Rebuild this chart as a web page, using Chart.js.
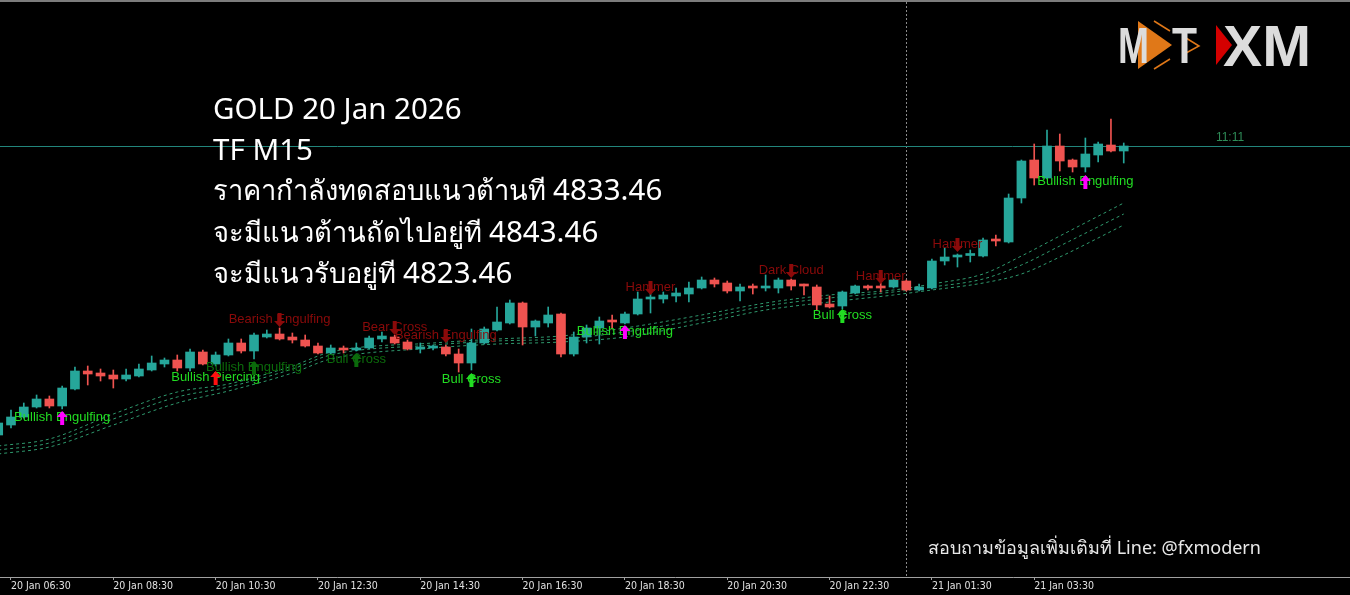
<html>
<head>
  <meta charset="UTF-8">
  <script src="https://cdn.jsdelivr.net/npm/chart.js"></script>
  <title>GOLD M15</title>
  <style>
    body { margin: 0; background: #000; overflow: hidden; }
    #wrap { position: relative; width: 1350px; height: 595px; }
    #topline { position: absolute; left: 0; top: 0; width: 1350px; height: 2px; background: #7c7c7c; }
    #info { position: absolute; left: 213px; top: 88px; color: #fff; font-family: "Noto Sans", sans-serif; font-size: 27.3px; line-height: 40.5px; white-space: nowrap; }
    #info .lat { font-size: 29.5px; }
    #contact { position: absolute; left: 928px; top: 535px; color: #e8e8e8; font-family: "Noto Sans", sans-serif; font-size: 18px; line-height: 24px; white-space: nowrap; }
    #logo { position: absolute; left: 1110px; top: 15px; }
  </style>
</head>
<body>
<div id="wrap">
  <canvas id="chart" width="1350" height="595"></canvas>
  <div id="topline"></div>
  <div id="info">
    <div><span class="lat">GOLD 20 Jan 2026</span></div>
    <div><span class="lat">TF M15</span></div>
    <div>ราคากำลังทดสอบแนวต้านที <span class="lat">4833.46</span></div>
    <div>จะมีแนวต้านถัดไปอยู่ที <span class="lat">4843.46</span></div>
    <div>จะมีแนวรับอยู่ที <span class="lat">4823.46</span></div>
  </div>
  <div id="contact">สอบถามข้อมูลเพิ่มเติมที่ Line: @fxmodern</div>
  <svg id="logo" width="210" height="62">
    <polygon points="28,6 62,30 28,54" fill="#e07818"/>
    <polyline points="44,6 60,16" fill="none" stroke="#e07818" stroke-width="1.5"/>
    <polyline points="44,54 60,44" fill="none" stroke="#e07818" stroke-width="1.5"/>
    <polyline points="76,23 89,31 76,38" fill="none" stroke="#e07818" stroke-width="1.5"/>
    <text x="8" y="48" font-family="Liberation Sans" font-weight="bold" font-size="50" fill="#dcdcdc" textLength="31" lengthAdjust="spacingAndGlyphs">M</text>
    <text x="62" y="48" font-family="Liberation Sans" font-weight="bold" font-size="50" fill="#dcdcdc" textLength="25" lengthAdjust="spacingAndGlyphs">T</text>
    <text x="113" y="51" font-family="Liberation Sans" font-weight="bold" font-size="57" fill="#dcdcdc" textLength="88" lengthAdjust="spacingAndGlyphs">XM</text>
    <polygon points="106,10 122,30 106,50" fill="#d40000"/>
  </svg>
</div>

<script>
// bar positions: bar 0 is 20 Jan 06:30, one bar per 15 minutes
const firstBar = -1;
const tickBars = [0, 8, 16, 24, 32, 40, 48, 56, 64, 72, 80];
const tickLabels = ['20 Jan 06:30', '20 Jan 08:30', '20 Jan 10:30', '20 Jan 12:30', '20 Jan 14:30',
  '20 Jan 16:30', '20 Jan 18:30', '20 Jan 20:30', '20 Jan 22:30', '21 Jan 01:30', '21 Jan 03:30'];

const opens = [
  4718.0, 4722.0, 4725.2, 4729.2, 4732.4, 4729.6, 4736.4, 4743.6, 4742.8, 4742.0,
  4740.4, 4741.6, 4744.0, 4746.4, 4748.0, 4744.8, 4751.2, 4746.4, 4750.0, 4754.8,
  4751.6, 4757.2, 4758.4, 4757.2, 4756.0, 4753.6, 4750.8, 4752.8, 4752.0, 4752.8,
  4756.4, 4757.2, 4755.2, 4752.4, 4752.8, 4753.2, 4750.4, 4746.8, 4754.8, 4760.0,
  4762.8, 4770.8, 4761.2, 4762.8, 4766.4, 4750.4, 4757.2, 4760.8, 4763.6, 4762.8,
  4766.4, 4772.4, 4772.4, 4773.6, 4774.4, 4776.8, 4780.0, 4778.8, 4775.6, 4777.2,
  4776.8, 4776.8, 4780.0, 4778.0, 4777.2, 4770.4, 4769.6, 4774.8, 4777.2, 4777.2,
  4777.2, 4779.6, 4776.0, 4776.8, 4787.6, 4789.2, 4789.8, 4789.6, 4796.0, 4795.2,
  4812.8, 4828.0, 4820.8, 4833.6, 4828.0, 4825.2, 4830.0, 4834.0, 4831.6];
const highs = [
  4724.0, 4728.0, 4730.8, 4734.0, 4733.6, 4737.6, 4745.2, 4745.6, 4744.4, 4744.0,
  4744.4, 4746.4, 4749.6, 4748.8, 4750.0, 4752.4, 4752.0, 4751.2, 4756.4, 4756.4,
  4758.8, 4760.0, 4760.8, 4758.8, 4758.0, 4754.8, 4754.0, 4753.6, 4754.8, 4757.6,
  4759.2, 4758.0, 4756.0, 4754.8, 4754.0, 4754.0, 4752.4, 4760.4, 4761.2, 4769.2,
  4772.0, 4771.2, 4764.0, 4769.2, 4766.8, 4759.2, 4762.0, 4765.2, 4766.0, 4767.2,
  4775.2, 4775.2, 4775.2, 4776.8, 4779.2, 4781.2, 4780.8, 4779.6, 4778.4, 4778.4,
  4782.0, 4780.8, 4780.4, 4778.4, 4778.0, 4773.6, 4775.6, 4778.0, 4778.0, 4778.8,
  4780.4, 4780.0, 4778.4, 4788.4, 4792.8, 4790.4, 4792.0, 4796.8, 4798.0, 4814.4,
  4828.0, 4834.4, 4840.0, 4838.4, 4828.4, 4836.8, 4835.2, 4844.4, 4834.8];
const lows = [
  4716.8, 4720.8, 4724.8, 4728.8, 4728.8, 4728.4, 4736.0, 4738.0, 4739.6, 4736.8,
  4739.6, 4741.2, 4743.6, 4745.2, 4743.6, 4743.6, 4746.0, 4745.6, 4749.6, 4750.8,
  4748.4, 4756.8, 4756.0, 4754.8, 4753.2, 4750.4, 4750.4, 4750.8, 4751.6, 4752.4,
  4755.2, 4754.4, 4752.0, 4750.8, 4752.0, 4749.6, 4743.2, 4744.0, 4754.4, 4759.6,
  4762.4, 4754.0, 4757.6, 4761.2, 4749.2, 4749.6, 4754.8, 4754.4, 4760.4, 4762.4,
  4766.0, 4766.8, 4770.8, 4771.2, 4771.2, 4776.4, 4777.2, 4774.8, 4771.6, 4774.4,
  4775.6, 4774.8, 4776.0, 4774.0, 4768.0, 4768.8, 4768.4, 4774.4, 4776.0, 4775.2,
  4776.8, 4775.6, 4775.6, 4776.4, 4786.0, 4785.2, 4787.2, 4789.2, 4793.6, 4794.8,
  4810.8, 4818.0, 4820.4, 4823.6, 4823.2, 4823.2, 4827.2, 4831.2, 4826.8];
const closes = [
  4722.8, 4725.2, 4729.2, 4732.4, 4729.6, 4736.8, 4743.6, 4742.4, 4741.6, 4740.4,
  4742.0, 4744.4, 4746.8, 4748.0, 4744.8, 4751.2, 4746.4, 4750.0, 4754.8, 4751.6,
  4758.0, 4758.4, 4756.4, 4756.0, 4753.6, 4750.8, 4752.8, 4752.0, 4752.8, 4756.8,
  4757.6, 4754.8, 4752.4, 4752.8, 4753.2, 4750.4, 4746.8, 4754.8, 4760.4, 4763.2,
  4770.8, 4761.2, 4763.6, 4766.0, 4750.4, 4757.2, 4760.8, 4763.6, 4763.2, 4766.4,
  4772.4, 4772.8, 4774.0, 4774.8, 4776.8, 4780.0, 4778.4, 4775.6, 4777.2, 4776.8,
  4777.2, 4780.0, 4777.6, 4777.6, 4770.0, 4769.2, 4775.2, 4777.6, 4776.8, 4776.8,
  4780.0, 4776.0, 4777.2, 4787.6, 4789.2, 4790.0, 4790.0, 4796.0, 4795.6, 4812.8,
  4827.6, 4820.8, 4833.6, 4827.6, 4825.2, 4830.4, 4834.4, 4831.6, 4833.6];

// three moving averages, read at a few bars
const maBars = [-1, 3, 8, 13, 17, 22, 25, 33, 38, 43, 48, 54, 59, 64, 69, 72, 76, 79, 82, 87];
const maFast = [4713.6, 4716.4, 4726.4, 4735.2, 4738.4, 4745.6, 4751.2, 4754.8, 4756.4, 4757.6,
  4760.8, 4766.0, 4770.8, 4774.0, 4776.0, 4778.4, 4782.4, 4789.6, 4797.6, 4810.8];
const maMid = [4712.0, 4714.8, 4724.4, 4733.2, 4737.2, 4744.4, 4750.0, 4754.0, 4755.6, 4756.4,
  4759.2, 4764.4, 4769.6, 4772.8, 4775.2, 4777.2, 4780.4, 4786.0, 4793.6, 4806.4];
const maSlow = [4710.4, 4713.2, 4722.0, 4730.8, 4735.6, 4742.8, 4748.4, 4752.8, 4754.4, 4755.2,
  4757.2, 4762.8, 4768.0, 4771.2, 4774.0, 4776.0, 4778.8, 4782.4, 4789.2, 4802.0];

// candle pattern marks
const patternBars = [4, 16, 19, 21, 27, 30, 34, 36, 48, 50, 61, 65, 68, 74, 84];
const patternNames = ['Bullish Engulfing', 'Bullish Piercing', 'Bullish Engulfing', 'Bearish Engulfing',
  'Bull Cross', 'Bear Cross', 'Bearish Engulfing', 'Bull Cross', 'Bullish Engulfing', 'Hammer',
  'Dark Cloud', 'Bull Cross', 'Hammer', 'Hammer', 'Bullish Engulfing'];
const patternKinds = ['engulf', 'piercing', 'weak', 'bear', 'weak', 'bear', 'bear', 'cross', 'engulf', 'bear',
  'bear', 'cross', 'bear', 'bear', 'engulf'];
const patternLevels = [4725.2, 4741.2, 4745.2, 4764.4, 4748.4, 4761.2, 4758.0, 4740.4, 4759.6, 4777.2,
  4784.0, 4766.0, 4781.6, 4794.4, 4819.6];

const bidPrice = 4833.6;
const dayStartBar = 70;
const countdown = '11:11';

const BULL = '#26a69a';
const BEAR = '#ef5350';
const patternStyle = {
  engulf:   { text: '#22dd22', arrow: '#ff00ff', up: true },
  piercing: { text: '#22dd22', arrow: '#ff1010', up: true },
  cross:    { text: '#22dd22', arrow: '#22dd22', up: true },
  weak:     { text: '#0b6b0b', arrow: '#0b6b0b', up: true },
  bear:     { text: '#8b0a0a', arrow: '#8b0a0a', up: false }
};

const candleX = opens.map((_, k) => firstBar + k);
const candleColor = ctx => closes[ctx.dataIndex] >= opens[ctx.dataIndex] ? BULL : BEAR;

function drawArrow(ctx, x, yc, up, color) {
  const s = up ? 1 : -1;
  const top = yc - 7 * s;
  ctx.beginPath();
  ctx.moveTo(x, top);
  ctx.lineTo(x + 5.5, top + 6 * s);
  ctx.lineTo(x + 2, top + 6 * s);
  ctx.lineTo(x + 2, top + 14 * s);
  ctx.lineTo(x - 2, top + 14 * s);
  ctx.lineTo(x - 2, top + 6 * s);
  ctx.lineTo(x - 5.5, top + 6 * s);
  ctx.closePath();
  ctx.fillStyle = color;
  ctx.fill();
}

const overlay = {
  id: 'overlay',
  beforeDatasetsDraw(chart) {
    const { ctx, chartArea } = chart;
    const xs = chart.scales.x, ys = chart.scales.y;
    ctx.save();
    const sx = Math.round(xs.getPixelForValue(dayStartBar)) + 0.5;
    ctx.strokeStyle = '#8a8a8a';
    ctx.lineWidth = 1;
    ctx.setLineDash([2, 2]);
    ctx.beginPath();
    ctx.moveTo(sx, chartArea.top);
    ctx.lineTo(sx, chartArea.bottom);
    ctx.stroke();
    ctx.setLineDash([]);
    const by = Math.round(ys.getPixelForValue(bidPrice)) + 0.5;
    ctx.strokeStyle = '#22857b';
    ctx.beginPath();
    ctx.moveTo(chartArea.left, by);
    ctx.lineTo(chartArea.right, by);
    ctx.stroke();
    ctx.restore();
  },
  afterDatasetsDraw(chart) {
    const { ctx, chartArea } = chart;
    const xs = chart.scales.x, ys = chart.scales.y;
    ctx.save();
    ctx.font = '13px "Liberation Sans", Arial, sans-serif';
    ctx.textAlign = 'center';
    ctx.textBaseline = 'middle';
    patternBars.forEach((b, k) => {
      const st = patternStyle[patternKinds[k]];
      const x = xs.getPixelForValue(b);
      const y = ys.getPixelForValue(patternLevels[k]);
      ctx.fillStyle = st.text;
      ctx.fillText(patternNames[k], x, y);
      drawArrow(ctx, x, y + 1, st.up, st.arrow);
    });
    ctx.font = '12px "Liberation Sans", Arial, sans-serif';
    ctx.fillStyle = '#2e8b57';
    ctx.fillText(countdown, chartArea.right - 120, ys.getPixelForValue(bidPrice) - 8);
    ctx.restore();
  }
};

new Chart(document.getElementById('chart').getContext('2d'), {
  type: 'bar',
  data: {
    datasets: [
      {
        label: 'body',
        data: candleX.map((x, k) => ({ x: x, y: [opens[k], closes[k]] })),
        backgroundColor: candleColor,
        borderWidth: 0,
        barThickness: 9,
        minBarLength: 2,
        grouped: false
      },
      {
        label: 'wick',
        data: candleX.map((x, k) => ({ x: x, y: [lows[k], highs[k]] })),
        backgroundColor: candleColor,
        borderWidth: 0,
        barThickness: 1,
        grouped: false
      },
      { type: 'line', label: 'ma1', data: maBars.map((x, k) => ({ x: x, y: maFast[k] })),
        borderColor: '#2f9a6e', borderWidth: 1, borderDash: [3, 3], pointRadius: 0, cubicInterpolationMode: 'monotone' },
      { type: 'line', label: 'ma2', data: maBars.map((x, k) => ({ x: x, y: maMid[k] })),
        borderColor: '#2f9a6e', borderWidth: 1, borderDash: [3, 3], pointRadius: 0, cubicInterpolationMode: 'monotone' },
      { type: 'line', label: 'ma3', data: maBars.map((x, k) => ({ x: x, y: maSlow[k] })),
        borderColor: '#2f9a6e', borderWidth: 1, borderDash: [3, 3], pointRadius: 0, cubicInterpolationMode: 'monotone' }
    ]
  },
  options: {
    responsive: false,
    animation: false,
    layout: { padding: { top: 2, left: 0, right: 0, bottom: 0 } },
    plugins: { legend: { display: false }, tooltip: { enabled: false } },
    scales: {
      x: {
        type: 'linear',
        offset: false,
        min: -0.86,
        max: 104.69,
        afterBuildTicks: s => { s.ticks = tickBars.map(v => ({ value: v })); },
        afterFit: s => { s.height = 18; },
        ticks: {
          autoSkip: false,
          maxRotation: 0,
          align: 'start',
          padding: 0,
          color: '#e0e0e0',
          font: { family: '"Liberation Sans Narrow", "DejaVu Sans Condensed", sans-serif', size: 10.5 },
          callback: (v, i) => tickLabels[i]
        },
        grid: { offset: false, drawOnChartArea: false, drawTicks: true, tickLength: 3, color: '#a0a0a0' },
        border: { color: '#a0a0a0' }
      },
      y: {
        display: false,
        min: 4661.2,
        max: 4891.2
      }
    }
  },
  plugins: [overlay]
});
</script>
</div>
</body>
</html>
